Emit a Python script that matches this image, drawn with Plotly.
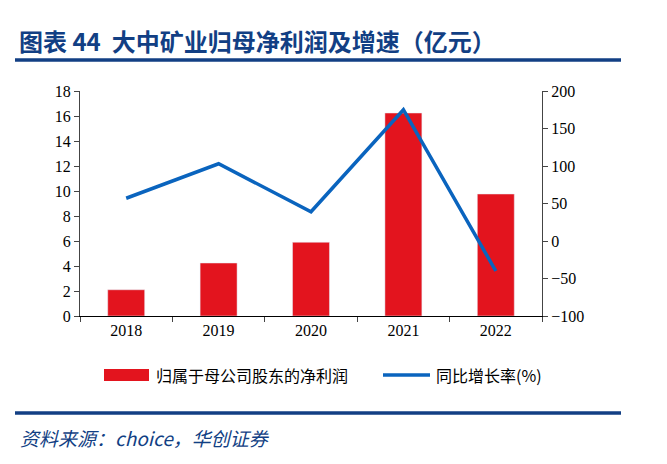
import plotly.graph_objects as go

years = ["2018", "2019", "2020", "2021", "2022"]
net_profit = [2.1, 4.24, 5.9, 16.24, 9.76]
growth = [57, 103, 39, 175, -40]
left_ticks = [0, 2, 4, 6, 8, 10, 12, 14, 16, 18]
right_ticks = [-100, -50, 0, 50, 100, 150, 200]

OFF = 8  # page body margin
W, H = 667 - 2 * OFF, 464 - 2 * OFF
L, R, T, B = 80 - OFF, 542 - OFF, 91 - OFF, 316 - OFF
pw, ph = R - L, B - T

def px(x):
    return (x - OFF - L) / pw

def py(y):
    return (B - (y - OFF)) / ph

RED = "#E3141E"
BLUE = "#0A64BE"
NAVY = "#123F84"

fig = go.Figure()
fig.add_trace(go.Bar(x=years, y=net_profit, marker_color=RED, width=0.4,
                     name="归属于母公司股东的净利润", showlegend=False))
fig.add_trace(go.Scatter(x=years, y=growth, yaxis="y2", mode="lines",
                         line=dict(color=BLUE, width=3.5),
                         name="同比增长率(%)", showlegend=False))

serif = "Liberation Serif, Times New Roman, serif"
fig.update_layout(
    width=W, height=H,
    margin=dict(l=L, r=W - R, t=T, b=H - B),
    plot_bgcolor="white", paper_bgcolor="white",
    font=dict(family=serif, size=16, color="#000"),
    xaxis=dict(showline=True, linecolor="#000", linewidth=1,
               ticks="outside", tickson="boundaries", ticklen=5,
               tickfont=dict(family=serif, size=16), showgrid=False),
    yaxis=dict(range=[0, 18], tickvals=left_ticks, showline=True,
               linecolor="#444", linewidth=1, ticks="outside", ticklen=5,
               showgrid=False, zeroline=False,
               tickfont=dict(family=serif, size=16)),
    yaxis2=dict(range=[-100, 200], tickvals=right_ticks, overlaying="y",
                side="right", showline=True, linecolor="#444", linewidth=1,
                ticks="outside", ticklen=5, showgrid=False, zeroline=False,
                tickfont=dict(family=serif, size=16)),
    bargap=0.6,
)

shapes = [
    dict(type="line", xref="paper", yref="paper", x0=px(15), x1=px(621),
         y0=py(60), y1=py(60), line=dict(color=NAVY, width=3.5)),
    dict(type="line", xref="paper", yref="paper", x0=px(15), x1=px(621),
         y0=py(413), y1=py(413), line=dict(color=NAVY, width=3.5)),
    dict(type="rect", xref="paper", yref="paper", x0=px(104), x1=px(149),
         y0=py(381), y1=py(369), fillcolor=RED, line=dict(width=0)),
    dict(type="line", xref="paper", yref="paper", x0=px(383), x1=px(430),
         y0=py(375), y1=py(375), line=dict(color=BLUE, width=3.5)),
]
fig.update_layout(shapes=shapes)

cjk = "Noto Sans CJK SC"
annotations = [
    dict(text="<b>图表 44  大中矿业归母净利润及增速（亿元）</b>", x=px(17), y=py(41),
         xref="paper", yref="paper", xanchor="left", yanchor="middle",
         showarrow=False, font=dict(family=cjk, size=24, color=NAVY)),
    dict(text="归属于母公司股东的净利润", x=px(154), y=py(375),
         xref="paper", yref="paper", xanchor="left", yanchor="middle",
         showarrow=False, font=dict(family=cjk, size=16, color="#000")),
    dict(text="同比增长率(%)", x=px(434), y=py(375),
         xref="paper", yref="paper", xanchor="left", yanchor="middle",
         showarrow=False, font=dict(family=cjk, size=16, color="#000")),
    dict(text="<i>资料来源：choice，华创证券</i>", x=px(18), y=py(437),
         xref="paper", yref="paper", xanchor="left", yanchor="middle",
         showarrow=False, font=dict(family=cjk, size=19, color=NAVY)),
]
fig.update_layout(annotations=annotations)

fig.write_html("out.html")
